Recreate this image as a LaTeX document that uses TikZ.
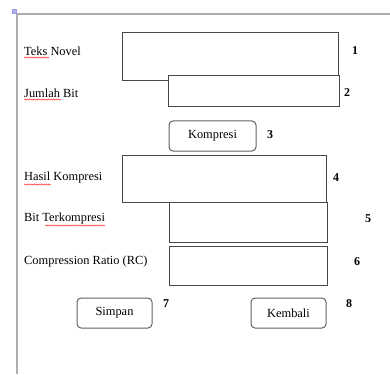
\documentclass[tikz,border=0pt]{standalone}
\usepackage{fontspec}
\setmainfont{Liberation Serif}
\usetikzlibrary{decorations.pathmorphing}
\tikzset{
  fieldbox/.style={draw=black!72, line width=1pt, fill=white, inner sep=0pt},
  btn/.style={draw=black!62, line width=1pt, rounded corners=4pt, fill=white, inner sep=0pt, font=\fontsize{12.4}{14}\selectfont},
  lbl/.style={anchor=west, inner sep=0pt, font=\fontsize{12.4}{14}\selectfont, text=black},
  num/.style={inner sep=0pt, font=\fontsize{12}{14}\selectfont\bfseries},
  frameline/.style={draw=black!32, line width=1.8pt},
  squig/.style={draw=red!80, line width=0.5pt, decorate, decoration={snake, amplitude=0.6pt, segment length=2.4pt}}
}
\begin{document}
\begin{tikzpicture}[x=1pt,y=-1pt]
\useasboundingbox (0,0) rectangle (390,374);
% frame
\coordinate (fc) at (17.3,14.3);
\coordinate (fr) at (390,14.3);
\coordinate (fb) at (17.3,374);
\draw[frameline] (fr) -- (fc) -- (fb);
\node[fill=blue!45!black!30, draw=blue!40, line width=0.3pt, minimum size=3.5pt, inner sep=0pt] (icon) at (14,11) {};
% boxes
\node[fieldbox, minimum width=216pt, minimum height=48pt] (b1) at (230,57) {};
\node[fieldbox, minimum width=171pt, minimum height=31pt] (b2) at (253.5,91.5) {};
\node[btn, minimum width=87pt, minimum height=30pt] (kompresi) at (212.5,136) {Kompresi};
\node[fieldbox, minimum width=204pt, minimum height=47pt] (b4) at (224,178.5) {};
\node[fieldbox, minimum width=158pt, minimum height=40pt] (b5) at (248,222) {};
\node[fieldbox, minimum width=158pt, minimum height=39pt] (b6) at (248,265.5) {};
\node[btn, minimum width=75pt, minimum height=30pt] (simpan) at (114.5,313) {Simpan};
\node[btn, minimum width=75pt, minimum height=30pt] (kembali) at (288.5,313) {Kembali};
% labels
\node[lbl] (l1) at (24,51) {Teks Novel};
\node[lbl] (l2) at (24,93) {Jumlah Bit};
\node[lbl] (l4) at (24,178) {Hasil Kompresi};
\node[lbl] (l5) at (24,219) {Bit Terkompresi};
\node[lbl] (l6) at (24,262) {Compression Ratio (RC)};
% spell-check underlines
\coordinate (s1a) at (24,57.5); \coordinate (s1b) at (49,57.5);
\coordinate (s2a) at (24,99.5); \coordinate (s2b) at (61,99.5);
\coordinate (s4a) at (24,184.5); \coordinate (s4b) at (51,184.5);
\coordinate (s5a) at (45,225.5); \coordinate (s5b) at (105,225.5);
\draw[squig] (s1a) -- (s1b);
\draw[squig] (s2a) -- (s2b);
\draw[squig] (s4a) -- (s4b);
\draw[squig] (s5a) -- (s5b);
% numbers
\node[num] (n1) at (355,51) {1};
\node[num] (n2) at (347,93) {2};
\node[num] (n3) at (270,135) {3};
\node[num] (n4) at (336,178) {4};
\node[num] (n5) at (368,219) {5};
\node[num] (n6) at (357,262) {6};
\node[num] (n7) at (166,304) {7};
\node[num] (n8) at (349,304) {8};
\end{tikzpicture}
\end{document}
